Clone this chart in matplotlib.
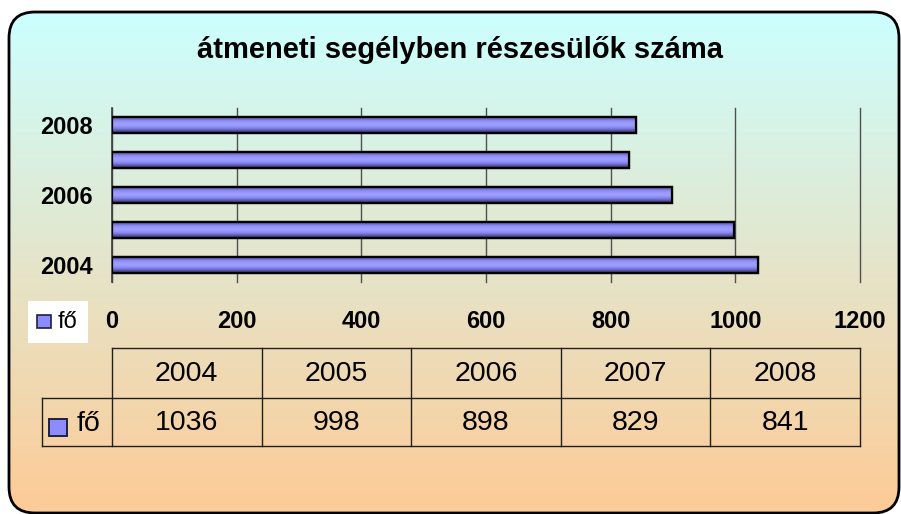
import numpy as np
import matplotlib
matplotlib.use("Agg")
import matplotlib.pyplot as plt
from matplotlib.patches import FancyBboxPatch, Rectangle

plt.rcParams['font.family'] = ['Liberation Sans', 'DejaVu Sans']

# ---- data ----
years = ["2004", "2005", "2006", "2007", "2008"]
values = [1036, 998, 898, 829, 841]
series_name = "fő"
title = "átmeneti segélyben részesülők száma"
xticks = [0, 200, 400, 600, 800, 1000, 1200]
ytick_labels = ["2004", "", "2006", "", "2008"]

W, H = 901, 514
fig = plt.figure(figsize=(W / 100, H / 100), dpi=100)

# ---- background axes in pixel coordinates ----
bg = fig.add_axes([0, 0, 1, 1], zorder=0)
bg.set_xlim(0, W)
bg.set_ylim(H, 0)
bg.axis('off')

top = np.array([204, 255, 255]) / 255
bot = np.array([253, 203, 150]) / 255
t = np.linspace(0, 1, 256)[:, None, None]
grad = top * (1 - t) + bot * t
fx0, fy0, fx1, fy1 = 9, 12, 899, 513
frame = FancyBboxPatch((fx0, fy0), fx1 - fx0, fy1 - fy0, boxstyle="round,pad=0,rounding_size=26",
                       facecolor='none', edgecolor='black', lw=2.0, zorder=3)
bg.add_patch(frame)
im = bg.imshow(grad, extent=[fx0, fx1, fy1, fy0], aspect='auto', zorder=1)
im.set_clip_path(frame)
bg.set_xlim(0, W)
bg.set_ylim(H, 0)

# title
bg.text(460, 50, title, ha='center', va='center', fontsize=21, fontweight='bold', zorder=5)

# legend box
bg.add_patch(Rectangle((28, 301), 60, 42, facecolor='white', edgecolor='none', zorder=4))
bar_color = '#8C8CFF'
bg.add_patch(Rectangle((37, 315), 14, 13, facecolor=bar_color, edgecolor='#202040', lw=1.2, zorder=5))
bg.text(58, 322, series_name, ha='left', va='center', fontsize=17, zorder=5)

# data table
col_x = np.linspace(112, 860, len(years) + 1)
y_top, y_mid, y_bot = 348, 398, 446
lc = '#202020'
bg.plot([col_x[0], col_x[-1]], [y_top, y_top], color=lc, lw=1, zorder=5)
bg.plot([42, col_x[-1]], [y_mid, y_mid], color=lc, lw=1, zorder=5)
bg.plot([42, col_x[-1]], [y_bot, y_bot], color=lc, lw=1, zorder=5)
bg.plot([42, 42], [y_mid, y_bot], color=lc, lw=1, zorder=5)
for x in col_x:
    bg.plot([x, x], [y_top, y_bot], color=lc, lw=1, zorder=5)
for i, (yr, v) in enumerate(zip(years, values)):
    cx = (col_x[i] + col_x[i + 1]) / 2
    bg.text(cx, (y_top + y_mid) / 2 + 1, yr, ha='center', va='center', fontsize=20.5, zorder=6)
    bg.text(cx, (y_mid + y_bot) / 2 + 1, str(v), ha='center', va='center', fontsize=20.5, zorder=6)
bg.add_patch(Rectangle((49, 419), 18, 17, facecolor=bar_color, edgecolor='#202040', lw=1.4, zorder=6))
bg.text(77, 424, series_name, ha='left', va='center', fontsize=20.5, zorder=6)

# ---- chart axes ----
ax = fig.add_axes([112 / W, 1 - 282 / H, (860 - 112) / W, (282 - 108) / H], zorder=2)
ax.patch.set_alpha(0)
ypos = np.arange(len(years))
bars = ax.barh(ypos, values, height=0.46, color=bar_color, edgecolor='black', lw=1.6, zorder=3)

# cylinder-like shading on bars
shade = np.array([
    [0.25, 0.25, 0.50], [0.42, 0.42, 0.78], [0.55, 0.55, 0.95], [0.60, 0.60, 1.0],
    [0.62, 0.62, 1.0], [0.58, 0.58, 1.0], [0.50, 0.50, 0.90], [0.36, 0.36, 0.68], [0.22, 0.22, 0.45]
])[:, None, :]
for b in bars:
    x0, y0, w, h = b.get_x(), b.get_y(), b.get_width(), b.get_height()
    bim = ax.imshow(shade, extent=[x0, x0 + w, y0, y0 + h], aspect='auto',
                    interpolation='bilinear', zorder=3.5)
    bim.set_clip_path(b)
    ax.add_patch(Rectangle((x0, y0), w, h, facecolor='none', edgecolor='black', lw=1.6, zorder=4))

ax.set_xlim(0, 1200)
ax.set_ylim(-0.5, len(years) - 0.5)
ax.set_xticks(xticks)
ax.set_xticklabels([str(v) for v in xticks], fontsize=17, fontweight='bold')
ax.set_yticks(ypos)
ax.set_yticklabels(ytick_labels, fontsize=17, fontweight='bold')
ax.tick_params(axis='both', length=0)
ax.tick_params(axis='x', pad=20)
ax.tick_params(axis='y', pad=14)
ax.grid(axis='x', color='#505050', lw=1, zorder=1)
for gl in ax.get_xgridlines():
    gl.set_clip_on(False)
ax.set_axisbelow(True)
for s in ['top', 'right', 'bottom']:
    ax.spines[s].set_visible(False)
ax.spines['left'].set_color('#404040')
ax.spines['left'].set_linewidth(1.2)

fig.savefig('out.png', dpi=100)
